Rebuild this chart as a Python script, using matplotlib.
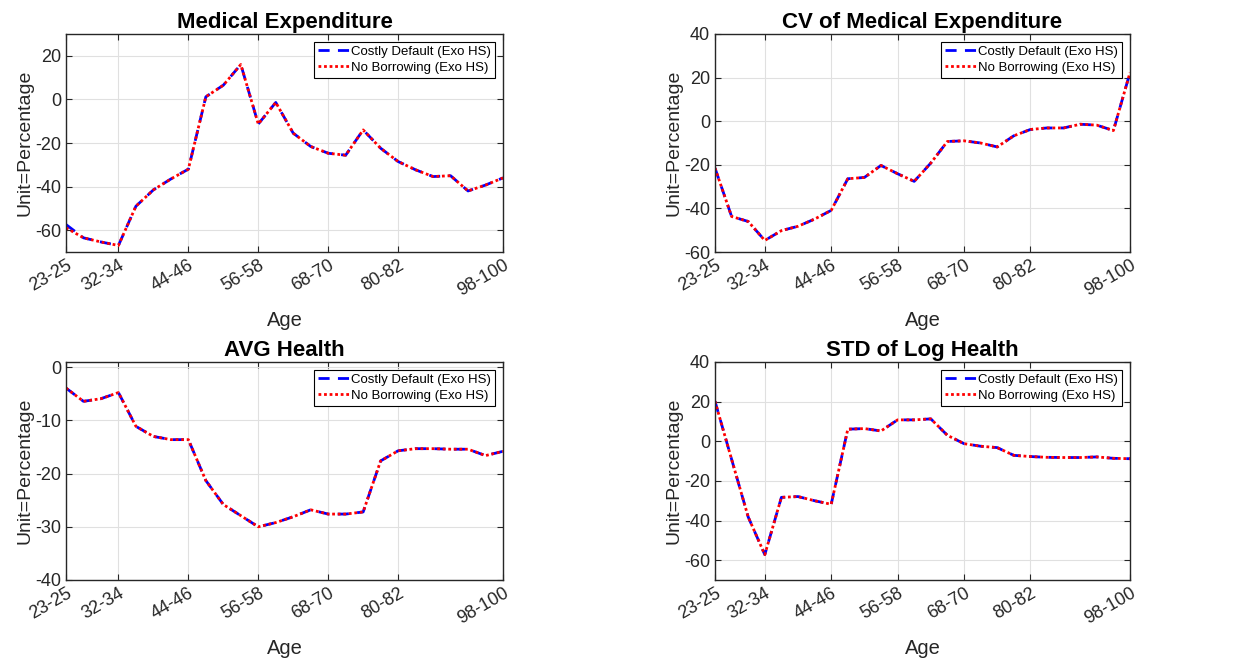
import matplotlib
matplotlib.use("Agg")
import matplotlib.pyplot as plt

plt.rcParams['font.family'] = ['Liberation Sans', 'DejaVu Sans']
plt.rcParams['axes.unicode_minus'] = False

# age groups 23-25 ... 98-100, 3-year bins
age_groups = [f"{a}-{a + 2}" for a in range(23, 99, 3)]
tick_idx = [0, 3, 7, 11, 15, 19, 25]

med_exp_default = [-57.4, -63.5, -65.4, -67.0, -49.0, -41.5, -36.5, -32.0, 1.2, 6.5,
                   16.0, -11.3, -1.4, -15.5, -21.6, -24.7, -25.6, -14.0, -22.4, -28.5,
                   -32.3, -35.4, -35.0, -42.0, -39.3, -36.0]
med_exp_noborrow = [-58.9, -63.5, -65.4, -67.0, -49.0, -41.5, -36.5, -32.0, 1.2, 6.5,
                    16.0, -11.3, -1.4, -15.5, -21.6, -24.7, -25.6, -14.0, -22.4, -28.5,
                    -32.3, -35.4, -35.0, -42.0, -39.3, -36.0]

cv_med_default = [-21.5, -43.7, -46.0, -54.7, -50.2, -48.2, -44.9, -40.9, -26.4, -25.8,
                  -20.3, -24.1, -27.6, -19.2, -9.3, -9.0, -10.0, -11.8, -6.7, -3.8,
                  -3.1, -3.1, -1.4, -1.8, -4.3, 22.3]
cv_med_noborrow = list(cv_med_default)

avg_health_default = [-3.9, -6.4, -5.9, -4.75, -11.1, -13.0, -13.6, -13.6, -21.3, -25.8,
                      -27.9, -30.0, -29.2, -28.1, -26.8, -27.6, -27.6, -27.2, -17.6, -15.7,
                      -15.3, -15.3, -15.4, -15.4, -16.6, -15.8]
avg_health_noborrow = list(avg_health_default)

std_health_default = [20.2, -9.1, -38.2, -57.2, -28.3, -27.9, -30.0, -31.8, 6.1, 6.4,
                      5.2, 10.8, 10.8, 11.3, 3.0, -1.2, -2.5, -3.2, -7.1, -7.7,
                      -8.1, -8.2, -8.2, -7.9, -8.6, -8.8]
std_health_noborrow = list(std_health_default)

panels = [
    ("Medical Expenditure", med_exp_default, med_exp_noborrow, (-70, 30), [-60, -40, -20, 0, 20],
     [66, 34, 503, 252]),
    ("CV of Medical Expenditure", cv_med_default, cv_med_noborrow, (-60, 40), [-60, -40, -20, 0, 20, 40],
     [715, 34, 1130, 252]),
    ("AVG Health", avg_health_default, avg_health_noborrow, (-40, 1), [-40, -30, -20, -10, 0],
     [66, 362, 503, 580]),
    ("STD of Log Health", std_health_default, std_health_noborrow, (-70, 40), [-60, -40, -20, 0, 20, 40],
     [715, 362, 1130, 580]),
]

W, H = 1252, 660
fig = plt.figure(figsize=(W / 100, H / 100), dpi=100)
x = list(range(len(age_groups)))
axis_col = (0.15, 0.15, 0.15)

for title, s1, s2, ylim, yticks, (x0, y0, x1, y1) in panels:
    ax = fig.add_axes([x0 / W, 1 - y1 / H, (x1 - x0) / W, (y1 - y0) / H])
    ax.plot(x, s1, color='blue', linestyle='--', linewidth=2, dashes=(4, 3),
            label='Costly Default (Exo HS)')
    ax.plot(x, s2, color='red', linestyle=':', linewidth=2, dashes=(1, 1),
            label='No Borrowing (Exo HS)')
    ax.set_xlim(0, len(age_groups) - 1)
    ax.set_ylim(*ylim)
    ax.set_yticks(yticks)
    ax.set_xticks(tick_idx)
    ax.set_xticklabels([age_groups[i] for i in tick_idx], rotation=30, ha='right',
                       rotation_mode='anchor')
    ax.tick_params(direction='in', top=True, right=True, labelsize=13, colors=axis_col,
                   length=4, width=0.8)
    for sp in ax.spines.values():
        sp.set_color(axis_col)
        sp.set_linewidth(1.0)
    ax.grid(True, color=(0.88, 0.88, 0.88), linewidth=0.8)
    ax.set_axisbelow(True)
    ax.set_title(title, fontsize=16, fontweight='bold', pad=4)
    ax.set_xlabel('Age', fontsize=14.5, color=axis_col, labelpad=8)
    ax.set_ylabel('Unit=Percentage', fontsize=14, color=axis_col, labelpad=1)
    leg = ax.legend(loc='upper right', fontsize=9.5, fancybox=False, framealpha=1,
                    edgecolor='black', borderaxespad=0.6, handlelength=2.4,
                    handletextpad=0.15, borderpad=0.3, labelspacing=0.25)
    leg.get_frame().set_linewidth(0.8)

fig.savefig('out.png', dpi=100)
